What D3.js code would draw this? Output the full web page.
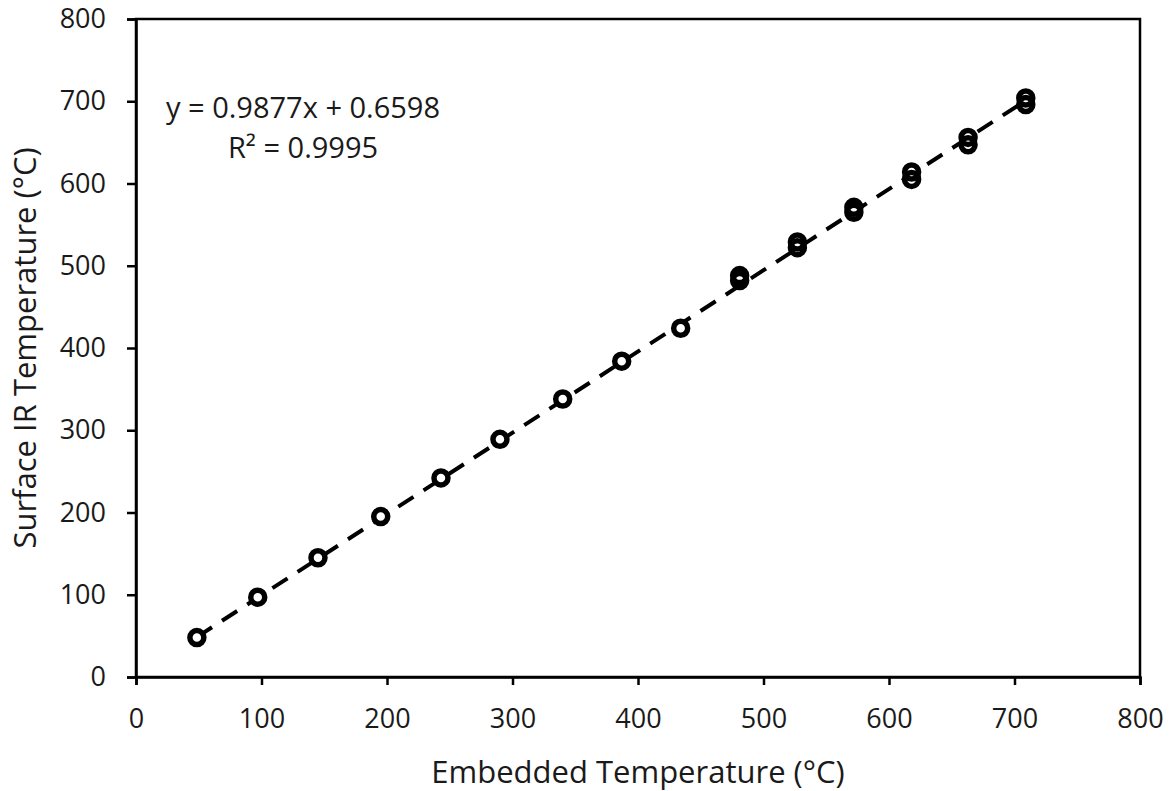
<!DOCTYPE html>
<html lang="en">
<head>
    <meta charset="UTF-8">
    <title>Surface IR vs Embedded Temperature</title>
    <script src="https://d3js.org/d3.v7.min.js"></script>
    <style>
        body { margin: 0; background: #fff; font-family: "Open Sans", sans-serif; }
    </style>
</head>
<body>
    <div id="chart"></div>
    <script>
        // readings (embedded thermocouple vs surface IR), repeated runs at upper temps
        const embedded = [48.5, 97, 145, 195, 243, 290, 340, 387, 434, 481, 481, 527, 527, 572, 572, 618, 618, 663, 663, 709, 709];
        const surface  = [48, 97, 145, 195, 242, 289, 338, 384, 424, 488, 482, 529, 522, 571, 565, 614, 605, 656, 647, 704, 696];

        const slope = 0.9877;
        const intercept = 0.6598;
        const eqText = "y = 0.9877x + 0.6598";
        const r2Text = "R² = 0.9995";

        const xTicks = [0, 100, 200, 300, 400, 500, 600, 700, 800];
        const yTicks = [0, 100, 200, 300, 400, 500, 600, 700, 800];

        const width = 1172, height = 791;
        const margin = { top: 19, right: 32, bottom: 114, left: 136 };

        const svg = d3.select("#chart").append("svg")
            .attr("width", width)
            .attr("height", height)
            .style("font-family", "'Open Sans', sans-serif");

        const x = d3.scaleLinear().domain([0, 800]).range([margin.left, width - margin.right]);
        const y = d3.scaleLinear().domain([0, 800]).range([height - margin.bottom, margin.top]);

        // plot box
        svg.append("rect")
            .attr("x", x(0)).attr("y", y(800))
            .attr("width", x(800) - x(0)).attr("height", y(0) - y(800))
            .attr("fill", "none").attr("stroke", "#000").attr("stroke-width", 2.5);

        const xAxis = svg.append("g")
            .attr("transform", `translate(0,${y(0)})`)
            .call(d3.axisBottom(x).tickValues(xTicks).tickSize(8).tickPadding(23).tickFormat(d3.format("d")));
        const yAxis = svg.append("g")
            .attr("transform", `translate(${x(0)},0)`)
            .call(d3.axisLeft(y).tickValues(yTicks).tickSize(9).tickPadding(21).tickFormat(d3.format("d")));

        [xAxis, yAxis].forEach(g => {
            g.select(".domain").attr("stroke-width", 2.5);
            g.selectAll(".tick line").attr("stroke-width", 2.5);
            g.selectAll(".tick text").attr("font-size", 27).attr("fill", "#1a1a1a")
                .style("font-family", "'Open Sans', sans-serif");
        });
        xAxis.selectAll(".tick text").attr("dy", "0.75em");

        // fitted line over the data range
        const xr = d3.extent(embedded);
        svg.append("line")
            .attr("x1", x(xr[0])).attr("y1", y(slope * xr[0] + intercept))
            .attr("x2", x(xr[1])).attr("y2", y(slope * xr[1] + intercept))
            .attr("stroke", "#000").attr("stroke-width", 4)
            .attr("stroke-dasharray", "18,12");

        // hollow rings; a white disc under each hides the dashed line
        const pts = embedded.map((d, i) => [d, surface[i]]);
        svg.append("g").selectAll("circle")
            .data(pts)
            .join("circle")
            .attr("cx", d => x(d[0]))
            .attr("cy", d => y(d[1]))
            .attr("r", 7)
            .attr("fill", "#fff");
        svg.append("g").selectAll("circle")
            .data(pts)
            .join("circle")
            .attr("cx", d => x(d[0]))
            .attr("cy", d => y(d[1]))
            .attr("r", 7)
            .attr("fill", "none")
            .attr("stroke", "#000")
            .attr("stroke-width", 5.5);

        svg.append("text")
            .attr("x", 303).attr("y", 118)
            .attr("text-anchor", "middle")
            .attr("font-size", 29).attr("fill", "#1a1a1a")
            .text(eqText);
        svg.append("text")
            .attr("x", 303).attr("y", 158)
            .attr("text-anchor", "middle")
            .attr("font-size", 29).attr("fill", "#1a1a1a")
            .text(r2Text);

        svg.append("text")
            .attr("x", (x(0) + x(800)) / 2).attr("y", 783)
            .attr("text-anchor", "middle")
            .attr("font-size", 31).attr("fill", "#1a1a1a")
            .text("Embedded Temperature (°C)");

        svg.append("text")
            .attr("transform", `translate(36,${(y(0) + y(800)) / 2}) rotate(-90)`)
            .attr("text-anchor", "middle")
            .attr("font-size", 31).attr("fill", "#1a1a1a")
            .text("Surface IR Temperature (°C)");
    </script>
</body>
</html>
